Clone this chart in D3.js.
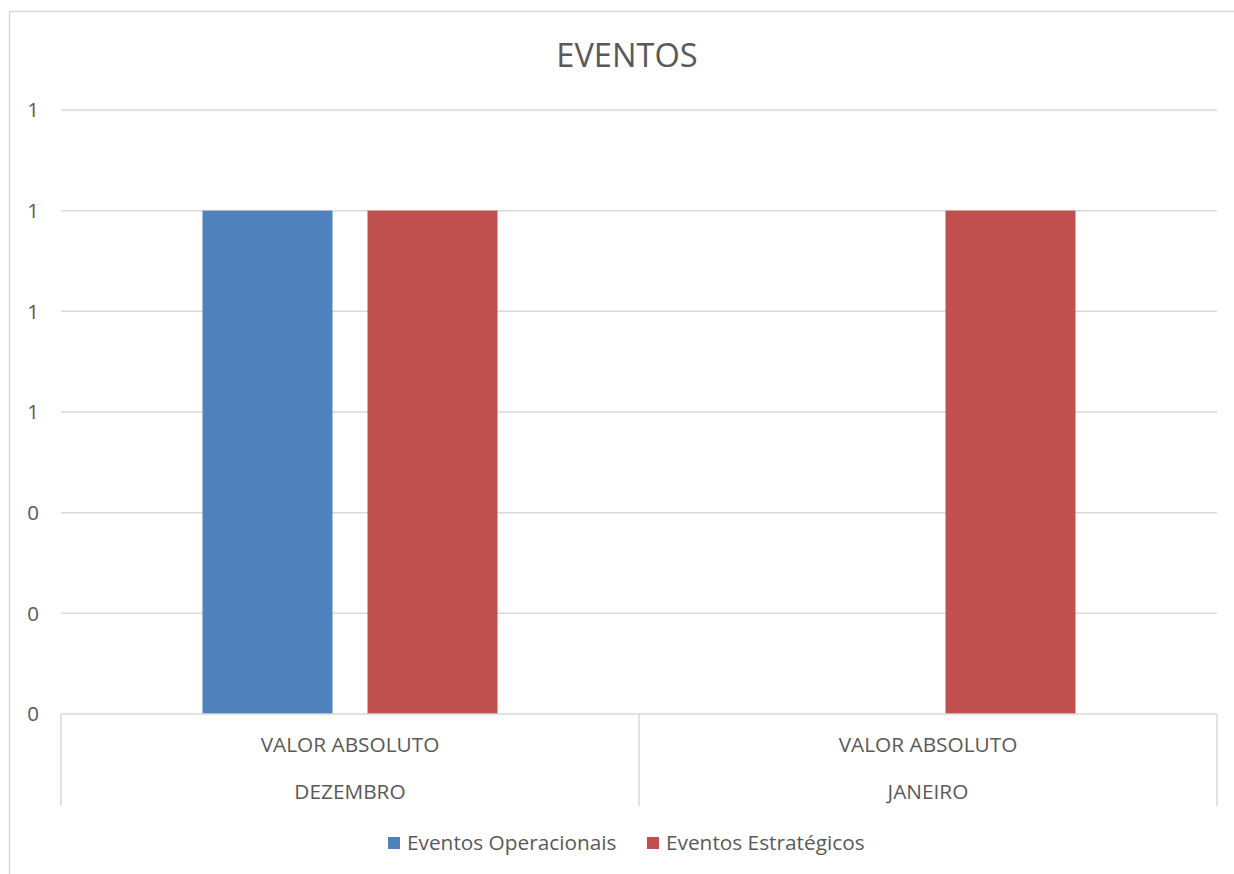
<!DOCTYPE html>
<html><head><meta charset="utf-8">
<script src="https://cdn.jsdelivr.net/npm/d3@7"></script>
<style>body{margin:0;background:#fff}svg{display:block}text{font-family:"Open Sans","Lato",sans-serif;fill:#595959}</style>
</head><body>
<script>
const months = ["DEZEMBRO", "JANEIRO"];
const subLabel = ["VALOR ABSOLUTO", "VALOR ABSOLUTO"];
const seriesNames = ["Eventos Operacionais", "Eventos Estratégicos"];
const operacionais = [1, 0];
const estrategicos = [1, 1];
const yTicks = [0, 0.2, 0.4, 0.6, 0.8, 1.0, 1.2];
const colors = ["#4F81BD", "#C0504D"];

const W = 1234, H = 874;
const svg = d3.select("body").append("svg").attr("width", W).attr("height", H);
svg.append("rect").attr("x", 9.5).attr("y", 11.5).attr("width", W).attr("height", H)
  .attr("fill", "#fff").attr("stroke", "#D9D9D9").attr("stroke-width", 1.5);

const L = 61, R = 1217, T = 110, B = 714;
const x = d3.scaleBand().domain(d3.range(months.length)).range([L, R]).padding(0);
const xs = d3.scaleBand().domain(d3.range(seriesNames.length)).range([0, x.bandwidth()])
  .paddingInner(35 / 165).paddingOuter(0.8576);
const y = d3.scaleLinear().domain([0, 1.2]).range([B, T]);

// gridlines
svg.append("g").selectAll("line").data(yTicks.slice(1)).join("line")
  .attr("x1", L).attr("x2", R).attr("y1", d => y(d)).attr("y2", d => y(d))
  .attr("stroke", "#D9D9D9").attr("stroke-width", 1.5);

// y labels
svg.append("g").selectAll("text").data(yTicks).join("text")
  .attr("x", 39).attr("y", d => y(d)).attr("dy", "0.35em").attr("text-anchor", "end")
  .attr("font-size", 20.5).text(d => d3.format(".0f")(d));

// bars
const seriesVals = [operacionais, estrategicos];
seriesVals.forEach((vals, si) => {
  svg.append("g").selectAll("rect").data(vals).join("rect")
    .attr("x", (d, i) => x(i) + xs(si)).attr("width", xs.bandwidth())
    .attr("y", d => y(d)).attr("height", d => B - y(d)).attr("fill", colors[si]);
});

// axis baseline and category dividers
svg.append("line").attr("x1", L).attr("x2", R).attr("y1", B).attr("y2", B)
  .attr("stroke", "#D9D9D9").attr("stroke-width", 1.5);
const dividers = d3.range(months.length + 1).map(i => i < months.length ? x(i) : x(months.length - 1) + x.bandwidth());
svg.append("g").selectAll("line").data(dividers).join("line")
  .attr("x1", d => d).attr("x2", d => d).attr("y1", B).attr("y2", 806)
  .attr("stroke", "#D9D9D9").attr("stroke-width", 1.5);

// category labels
svg.append("g").selectAll("text").data(subLabel).join("text")
  .attr("x", (d, i) => x(i) + x.bandwidth() / 2).attr("y", 745).attr("dy", "0.35em")
  .attr("text-anchor", "middle").attr("font-size", 20.8).text(d => d);
svg.append("g").selectAll("text").data(months).join("text")
  .attr("x", (d, i) => x(i) + x.bandwidth() / 2).attr("y", 792).attr("dy", "0.35em")
  .attr("text-anchor", "middle").attr("font-size", 20.8).text(d => d);

// title
svg.append("text").attr("x", 627).attr("y", 56).attr("dy", "0.35em").attr("text-anchor", "middle")
  .attr("font-size", 32.6).text("EVENTOS");

// legend
const legX = [388, 647];
seriesNames.forEach((n, i) => {
  svg.append("rect").attr("x", legX[i]).attr("y", 837).attr("width", 12).attr("height", 12).attr("fill", colors[i]);
  svg.append("text").attr("x", legX[i] + 19).attr("y", 843).attr("dy", "0.35em").attr("font-size", 20.8).text(n);
});
</script>
</body></html>
